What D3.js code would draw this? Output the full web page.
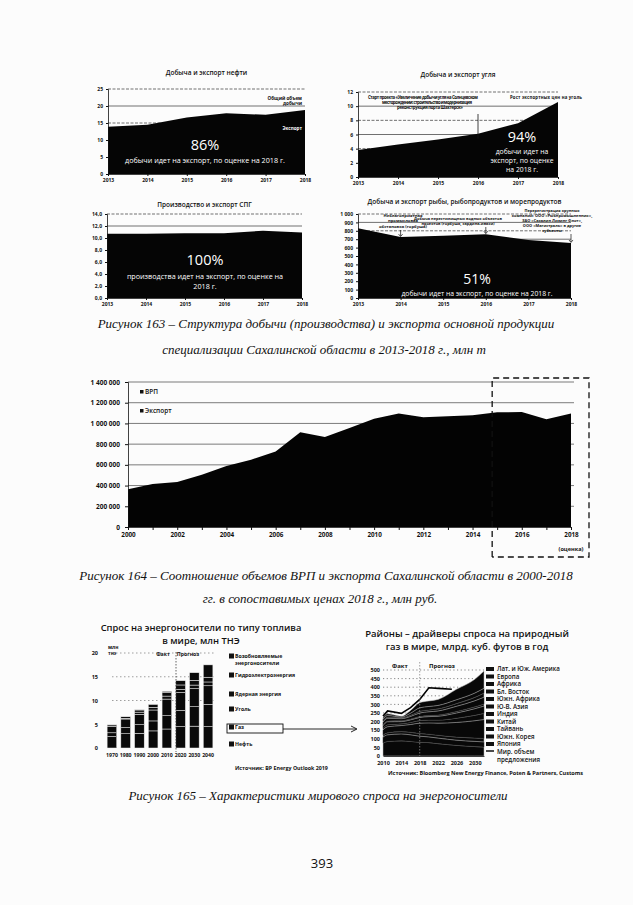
<!DOCTYPE html>
<html>
<head>
<meta charset="utf-8">
<script src="https://cdn.jsdelivr.net/npm/d3@7"></script>
<style>
  body { margin: 0; background: #fff; }
  svg text { font-family: "Open Sans", "Noto Sans", sans-serif; }
  svg text.cap { font-family: "Liberation Serif", serif; font-style: italic; }
</style>
</head>
<body>
<div id="page"></div>
<script>
// --- рис. 163: малые графики 2013-2018
var smallYears = [2013, 2014, 2015, 2016, 2017, 2018];
var oilExport = [13.9, 14.5, 16.6, 17.9, 17.4, 18.8];
var coalExport = [3.8, 4.6, 5.3, 6.1, 7.6, 10.6];
var lngExport = [10.7, 10.7, 10.8, 10.8, 11.2, 10.9];
var fishExport = [830, 725, 740, 760, 690, 655];
var oilTicks = [0, 5, 10, 15, 20, 25];
var coalTicks = [0, 2, 4, 6, 8, 10, 12];
var lngTicks = [0, 2, 4, 6, 8, 10, 12, 14];
var fishTicks = [0, 100, 200, 300, 400, 500, 600, 700, 800, 900, 1000];

// --- рис. 164: ВРП и экспорт
var grpYears = [2000, 2001, 2002, 2003, 2004, 2005, 2006, 2007, 2008, 2009, 2010, 2011, 2012, 2013, 2014, 2015, 2016, 2017, 2018];
var exportValues = [365000, 415000, 435000, 505000, 590000, 650000, 730000, 915000, 870000, 955000, 1045000, 1095000, 1060000, 1070000, 1078000, 1108000, 1110000, 1040000, 1095000];
var grpTicks = [0, 200000, 400000, 600000, 800000, 1000000, 1200000, 1400000];
var grpTickYears = [2000, 2002, 2004, 2006, 2008, 2010, 2012, 2014, 2016, 2018];

// --- рис. 165 (слева): спрос по типу топлива
var fuelYears = ['1970', '1980', '1990', '2000', '2010', '2020', '2030', '2040'];
var oilDemand = [2.4, 3.0, 3.1, 3.6, 4.0, 4.5, 4.6, 4.5];
var gasDemand = [0.8, 1.3, 1.8, 2.1, 2.8, 3.4, 4.1, 4.7];
var coalDemand = [1.4, 1.8, 2.2, 2.3, 3.5, 3.8, 3.8, 3.9];
var nuclearDemand = [0.02, 0.16, 0.45, 0.58, 0.63, 0.65, 0.75, 0.8];
var hydroDemand = [0.25, 0.33, 0.45, 0.6, 0.78, 0.92, 1.0, 1.0];
var renewDemand = [0.0, 0.01, 0.03, 0.06, 0.2, 0.9, 1.6, 2.6];
var fuelNames = ['Нефть', 'Газ', 'Уголь', 'Ядерная энергия', 'Гидроэлектроэнергия', 'Возобновляемые'];
var fuelTicks = [0, 5, 10, 15, 20];

// --- рис. 165 (справа): спрос на газ по районам
var gasYears = [2010, 2011, 2014, 2016, 2018, 2020, 2022, 2026, 2030, 2032];
var gasJapan = [75, 85, 88, 85, 80, 78, 72, 62, 55, 52];
var gasKorea = [35, 38, 40, 38, 35, 33, 32, 30, 30, 30];
var gasTaiwan = [12, 12, 14, 15, 16, 16, 17, 18, 20, 20];
var gasChina = [30, 35, 35, 45, 60, 65, 70, 85, 100, 110];
var gasIndia = [10, 12, 10, 12, 15, 17, 18, 25, 32, 36];
var gasSeAsia = [15, 17, 13, 15, 18, 20, 22, 30, 38, 42];
var gasSAfrica = [5, 5, 5, 5, 6, 6, 7, 9, 11, 12];
var gasMidEast = [15, 15, 12, 15, 20, 22, 24, 30, 35, 40];
var gasAfrica = [6, 6, 5, 7, 10, 11, 12, 16, 20, 24];
var gasEurope = [10, 10, 4, 12, 20, 20, 20, 22, 25, 28];
var gasLatAm = [10, 10, 5, 16, 30, 32, 35, 61, 80, 100];
var regionNames = ['Лат. и Юж. Америка', 'Европа', 'Африка', 'Бл. Восток', 'Южн. Африка', 'Ю-В. Азия', 'Индия', 'Китай', 'Тайвань', 'Южн. Корея', 'Япония'];
var supplyYears = [2010, 2011, 2014, 2016, 2018, 2020, 2022, 2025];
var supplyValues = [232, 262, 248, 281, 329, 397, 393, 388];
var gasTicks = [0, 50, 100, 150, 200, 250, 300, 350, 400, 450, 500];
var gasTickYears = [2010, 2014, 2018, 2022, 2026, 2030];

var svg = d3.select('#page').append('svg').attr('width', 633).attr('height', 905);
svg.append('rect').attr('width', 633).attr('height', 905).attr('fill', '#fcfcfc');

function label(x, y, s, size, anchor, weight, fill){
    return svg.append('text').attr('x', x).attr('y', y).text(s)
        .attr('font-size', size).attr('text-anchor', anchor || 'middle')
        .attr('font-weight', weight || 'normal').attr('fill', fill || '#111');
}

function caption(x, y, s){
    return label(x, y, s, 13, 'middle').attr('class', 'cap');
}

function styleAxis(g, size){
    g.selectAll('text').attr('font-size', size).attr('font-weight', 'bold').attr('fill', '#111');
    g.selectAll('line').attr('stroke', '#111');
    g.select('.domain').attr('stroke', '#111').attr('stroke-width', 0.8);
}

// малый график площади
function smallArea(o){
    var x = d3.scaleLinear().domain([2013, 2018]).range([o.left, o.right]);
    var y = d3.scaleLinear().domain([0, o.ticks[o.ticks.length - 1]]).range([o.bottom, o.top]);
    var g = svg.append('g');
    g.selectAll('.grid').data(o.ticks.slice(1)).enter().append('line')
        .attr('x1', o.left).attr('x2', o.right)
        .attr('y1', function(d){ return y(d); }).attr('y2', function(d){ return y(d); })
        .attr('stroke', '#333').attr('stroke-width', 0.7)
        .attr('stroke-dasharray', function(d, i){ return (o.ticks.length - 2 - i) % 2 === 0 ? '3,1.5' : null; });
    g.append('path').datum(o.values)
        .attr('d', d3.area().x(function(d, i){ return x(smallYears[i]); }).y0(y(0)).y1(function(d){ return y(d); }))
        .attr('fill', '#050505');
    var ax = g.append('g').attr('transform', 'translate(0,' + o.bottom + ')')
        .call(d3.axisBottom(x).tickValues(smallYears).tickFormat(d3.format('d')).tickSize(2).tickPadding(2));
    styleAxis(ax, 5);
    var ay = g.append('g').attr('transform', 'translate(' + o.left + ',0)')
        .call(d3.axisLeft(y).tickValues(o.ticks).tickFormat(o.fmt).tickSize(2).tickPadding(3));
    styleAxis(ay, 5);
    label((o.left + o.right) / 2, o.titleY, o.title, 6.5, 'middle', 600);
    return {x: x, y: y};
}

var oil = smallArea({left: 108, right: 305, top: 89, bottom: 174, ticks: oilTicks, values: oilExport,
    fmt: d3.format('d'), title: 'Добыча и экспорт нефти', titleY: 75});
label(302, 100, 'Общий объем', 4.6, 'end', 'bold');
label(302, 105, 'добычи', 4.6, 'end', 'bold');
label(302, 130, 'Экспорт', 4.6, 'end', 'bold', '#fff');
label(205, 150, '86%', 14.5, 'middle', 'normal', '#fff');
label(205, 163, 'добычи идет на экспорт, по оценке на 2018 г.', 7.2, 'middle', 'normal', '#fff');

var coal = smallArea({left: 358, right: 558, top: 92, bottom: 177, ticks: coalTicks, values: coalExport,
    fmt: d3.format('d'), title: 'Добыча и экспорт угля', titleY: 77});
label(423, 99, 'Старт проекта «Увеличение добычи угля на Солнцевском', 4.3, 'middle', 'bold').attr('textLength', 110);
label(427, 104, 'месторождении: строительство и модернизация', 4.3, 'middle', 'bold').attr('textLength', 90);
label(430, 109, 'реконструкция порта Шахтерск»', 4.3, 'middle', 'bold').attr('textLength', 66);
svg.append('line').attr('x1', coal.x(2016)).attr('x2', coal.x(2016)).attr('y1', 114).attr('y2', coal.y(6.1) + 5)
    .attr('stroke', '#111').attr('stroke-width', 0.8);
label(546, 99, 'Рост экспортных цен на уголь', 4.3, 'middle', 'bold').attr('textLength', 72);
label(522, 142, '94%', 14.5, 'middle', 'normal', '#fff');
label(522, 154, 'добычи идет на', 6.8, 'middle', 'normal', '#fff');
label(522, 163, 'экспорт, по оценке', 6.8, 'middle', 'normal', '#fff');
label(522, 172, 'на 2018 г.', 6.8, 'middle', 'normal', '#fff');

smallArea({left: 107, right: 302, top: 214, bottom: 298, ticks: lngTicks, values: lngExport,
    fmt: function(d){ return d.toFixed(1).replace('.', ','); }, title: 'Производство и экспорт СПГ', titleY: 207});
label(205, 265, '100%', 14.5, 'middle', 'normal', '#fff');
label(205, 279, 'производства идет на экспорт, по оценке на', 7.2, 'middle', 'normal', '#fff');
label(205, 289, '2018 г.', 7.2, 'middle', 'normal', '#fff');

var fish = smallArea({left: 358, right: 571, top: 214, bottom: 298, ticks: fishTicks, values: fishExport,
    fmt: function(d){ return d3.format(',')(d).replace(',', ' '); },
    title: 'Добыча и экспорт рыбы, рыбопродуктов и морепродуктов', titleY: 204});
label(403, 217, 'Неблагоприятная', 4.2, 'middle', 'bold');
label(403, 222, 'промысловая', 4.2, 'middle', 'bold');
label(403, 228, 'обстановка (горбуша)', 4.2, 'middle', 'bold');
label(458, 220, 'Добыча нерестилищных водных объектов', 3.9, 'middle', 'bold');
label(458, 225, 'проектов (горбуша, сардина-иваси)', 3.9, 'middle', 'bold');
label(552, 212, 'Перерегистрация крупных', 3.9, 'middle', 'bold');
label(552, 217, 'компаний: ООО «Рыбпромышленник»,', 3.9, 'middle', 'bold');
label(552, 222, 'ЗАО «Сахалин Лизинг Флот»,', 3.9, 'middle', 'bold');
label(552, 227, 'ООО «Магистраль» в другие', 3.9, 'middle', 'bold');
label(552, 232, 'субъекты', 3.9, 'middle', 'bold');
[[2014, 230, 725], [2016, 227, 760], [2018, 234, 655]].forEach(function(a){
    var xx = fish.x(a[0]);
    svg.append('line').attr('x1', xx).attr('x2', xx).attr('y1', a[1]).attr('y2', fish.y(a[2]) - 1)
        .attr('stroke', '#111').attr('stroke-width', 0.7);
    svg.append('path').attr('d', 'M' + (xx - 2) + ',' + (fish.y(a[2]) - 3) + 'L' + xx + ',' + (fish.y(a[2]) - 0.5) + 'L' + (xx + 2) + ',' + (fish.y(a[2]) - 3))
        .attr('fill', 'none').attr('stroke', '#111').attr('stroke-width', 0.7);
});
label(477, 284, '51%', 14, 'middle', 'normal', '#fff');
label(477, 296, 'добычи идет на экспорт, по оценке на 2018 г.', 6.8, 'middle', 'normal', '#fff');

caption(326, 328, 'Рисунок 163 – Структура добычи (производства) и экспорта основной продукции');
caption(324, 354, 'специализации Сахалинской области в 2013-2018 г., млн т');

// --- рис. 164
var gx = d3.scaleLinear().domain([2000, 2018]).range([128, 571]);
var gy = d3.scaleLinear().domain([0, 1400000]).range([527, 382]);
svg.append('g').selectAll('line').data(grpTicks.slice(1)).enter().append('line')
    .attr('x1', 128).attr('x2', 574)
    .attr('y1', function(d){ return gy(d); }).attr('y2', function(d){ return gy(d); })
    .attr('stroke', '#444').attr('stroke-width', 0.7);
svg.append('path').datum(exportValues)
    .attr('d', d3.area().x(function(d, i){ return gx(grpYears[i]); }).y0(gy(0)).y1(function(d){ return gy(d); }))
    .attr('fill', '#030303');
var gax = svg.append('g').attr('transform', 'translate(0,527)')
    .call(d3.axisBottom(gx).tickValues(grpYears).tickFormat(function(d){ return grpTickYears.indexOf(d) >= 0 ? d : ''; })
        .tickSize(3).tickPadding(3));
styleAxis(gax, 6.3);
var gay = svg.append('g').attr('transform', 'translate(128,0)')
    .call(d3.axisLeft(gy).tickValues(grpTicks).tickFormat(function(d){ return d3.format(',')(d).replace(/,/g, ' '); })
        .tickSize(3).tickPadding(5));
styleAxis(gay, 6.5);
label(571, 551, '(оценка)', 5.6, 'middle', 'bold');
svg.append('rect').attr('x', 140).attr('y', 390).attr('width', 3.5).attr('height', 3.5).attr('fill', '#111');
label(145, 394, 'ВРП', 6.5, 'start', 600);
svg.append('rect').attr('x', 140).attr('y', 409).attr('width', 3.5).attr('height', 3.5).attr('fill', '#111');
label(145, 413, 'Экспорт', 6.5, 'start', 600);
svg.append('path').attr('d', 'M' + (gx(2015) - 5) + ',557V378H589V557H' + (gx(2015) - 5))
    .attr('fill', 'none').attr('stroke', '#111').attr('stroke-width', 1.3).attr('stroke-dasharray', '6,4');

caption(326, 580, 'Рисунок 164 – Соотношение объемов ВРП и экспорта Сахалинской области в 2000-2018');
caption(320, 603, 'гг. в сопоставимых ценах 2018 г., млн руб.');

// --- рис. 165 слева: столбцы
var fuelSeries = [oilDemand, gasDemand, coalDemand, nuclearDemand, hydroDemand, renewDemand];
var fuelRows = fuelYears.map(function(yr, i){
    var r = {year: yr};
    fuelNames.forEach(function(k, j){ r[k] = fuelSeries[j][i]; });
    return r;
});
var bx = d3.scaleBand().domain(fuelYears).range([103, 217]).padding(0.3);
var by = d3.scaleLinear().domain([0, 20]).range([748, 653]);
svg.append('g').selectAll('line').data(fuelTicks.slice(2)).enter().append('line')
    .attr('x1', 112).attr('x2', 214)
    .attr('y1', function(d){ return by(d); }).attr('y2', function(d){ return by(d); })
    .attr('stroke', '#777').attr('stroke-width', 0.7).attr('stroke-dasharray', '1.5,2.5');
svg.append('g').selectAll('g').data(d3.stack().keys(fuelNames)(fuelRows)).enter().append('g')
    .selectAll('rect').data(function(d){ return d; }).enter().append('rect')
    .attr('x', function(d){ return bx(d.data.year); }).attr('width', bx.bandwidth())
    .attr('y', function(d){ return by(d[1]); }).attr('height', function(d){ return Math.max(0, by(d[0]) - by(d[1])); })
    .attr('fill', '#0a0a0a').attr('stroke', '#eee').attr('stroke-width', 0.5);
var fax = svg.append('g').attr('transform', 'translate(0,749)')
    .call(d3.axisBottom(bx).tickSize(0).tickPadding(4));
styleAxis(fax, 5.2);
fax.select('.domain').remove();
var fay = svg.append('g').attr('transform', 'translate(101,0)')
    .call(d3.axisLeft(by).tickValues(fuelTicks).tickSize(0).tickPadding(3));
styleAxis(fay, 5.5);
fay.select('.domain').remove();
label(108, 649, 'млн', 4.8, 'start', 'bold');
label(108, 655, 'тнэ', 4.8, 'start', 'bold');
svg.append('line').attr('x1', 176).attr('x2', 176).attr('y1', 652).attr('y2', 752)
    .attr('stroke', '#222').attr('stroke-width', 0.7).attr('stroke-dasharray', '1.5,1.5');
label(163, 656, 'Факт', 5.2, 'middle', 'bold');
label(188, 656, 'Прогноз', 5.2, 'middle', 'bold');
label(201, 631, 'Спрос на энергоносители по типу топлива', 9.3, 'middle', 600);
label(201, 644, 'в мире, млн ТНЭ', 9.3, 'middle', 600);
var fuelLegendY = [746, 729, 711, 696, 677, 658];
fuelNames.forEach(function(n, i){
    svg.append('rect').attr('x', 229).attr('y', fuelLegendY[i] - 4.5).attr('width', 5).attr('height', 5).attr('fill', '#111');
    label(235, fuelLegendY[i], n, 5.2, 'start', 'bold');
});
label(235, 665, 'энергоносители', 5.2, 'start', 'bold');
svg.append('rect').attr('x', 227).attr('y', 724).attr('width', 56).attr('height', 9)
    .attr('fill', 'none').attr('stroke', '#111').attr('stroke-width', 0.9);
svg.append('line').attr('x1', 283).attr('x2', 356).attr('y1', 729).attr('y2', 729).attr('stroke', '#111').attr('stroke-width', 0.9);
svg.append('path').attr('d', 'M351,726L357,729L351,732').attr('fill', 'none').attr('stroke', '#111').attr('stroke-width', 0.9);
label(235, 770, 'Источник: BP Energy Outlook 2019', 5.3, 'start', 'bold');

// --- рис. 165 справа: площади по районам
var gasSeries = [gasJapan, gasKorea, gasTaiwan, gasChina, gasIndia, gasSeAsia, gasSAfrica, gasMidEast, gasAfrica, gasEurope, gasLatAm];
var stackKeys = regionNames.slice().reverse();
var gasRows = gasYears.map(function(yr, i){
    var r = {year: yr};
    stackKeys.forEach(function(k, j){ r[k] = gasSeries[j][i]; });
    return r;
});
var rx = d3.scaleLinear().domain([2010, 2032]).range([383, 484]);
var ry = d3.scaleLinear().domain([0, 500]).range([756, 670]);
svg.append('g').selectAll('line').data(gasTicks.slice(1)).enter().append('line')
    .attr('x1', 383).attr('x2', 484)
    .attr('y1', function(d){ return ry(d); }).attr('y2', function(d){ return ry(d); })
    .attr('stroke', '#555').attr('stroke-width', 0.7).attr('stroke-dasharray', '1.2,2.5');
var gasArea = d3.area().x(function(d){ return rx(d.data.year); })
    .y0(function(d){ return ry(d[0]); }).y1(function(d){ return ry(d[1]); }).curve(d3.curveMonotoneX);
svg.append('g').selectAll('path').data(d3.stack().keys(stackKeys)(gasRows)).enter().append('path')
    .attr('d', gasArea).attr('fill', '#080808')
    .attr('stroke', function(d, i){ return i % 2 === 0 ? '#bbb' : '#333'; }).attr('stroke-width', 0.5);
svg.append('path').datum(supplyValues)
    .attr('d', d3.line().x(function(d, i){ return rx(supplyYears[i]); }).y(function(d){ return ry(d); }))
    .attr('fill', 'none').attr('stroke', '#000').attr('stroke-width', 1.6);
svg.append('line').attr('x1', rx(2018)).attr('x2', rx(2018)).attr('y1', 662).attr('y2', 757)
    .attr('stroke', '#888').attr('stroke-width', 0.8).attr('stroke-dasharray', '1.5,1.5');
var rax = svg.append('g').attr('transform', 'translate(0,756)')
    .call(d3.axisBottom(rx).tickValues(gasTickYears).tickFormat(d3.format('d')).tickSize(0).tickPadding(5));
styleAxis(rax, 5.5);
var ray = svg.append('g').attr('transform', 'translate(383,0)')
    .call(d3.axisLeft(ry).tickValues(gasTicks).tickSize(0).tickPadding(3));
styleAxis(ray, 5.5);
ray.select('.domain').remove();
label(400, 668, 'Факт', 6, 'middle', 'bold');
label(442, 668, 'Прогноз', 6, 'middle', 'bold');
label(467, 637, 'Районы – драйверы спроса на природный', 9.5, 'middle', 600);
label(467, 650, 'газ в мире, млрд. куб. футов в год', 9.5, 'middle', 600);
var regionLegendY = [671, 678.5, 686, 693.5, 701, 708.5, 716, 723.5, 731, 738.5, 746];
regionNames.forEach(function(n, i){
    svg.append('rect').attr('x', 486).attr('y', regionLegendY[i] - 4).attr('width', 8).attr('height', 4).attr('fill', '#111');
    label(497, regionLegendY[i], n, 6.2, 'start', 600);
});
svg.append('line').attr('x1', 486).attr('x2', 494).attr('y1', 751).attr('y2', 751).attr('stroke', '#111').attr('stroke-width', 1.5);
label(497, 754, 'Мир. объем', 6.2, 'start', 600);
label(497, 762, 'предложения', 6.2, 'start', 600);
label(388, 775, 'Источник: Bloomberg New Energy Finance, Poten & Partners, Customs', 5.6, 'start', 'bold')
    .attr('textLength', 195);

caption(318, 800, 'Рисунок 165 – Характеристики мирового спроса на энергоносители');
label(322, 868, '393', 13, 'middle').attr('font-family', 'Liberation Serif');
</script>
</body>
</html>
